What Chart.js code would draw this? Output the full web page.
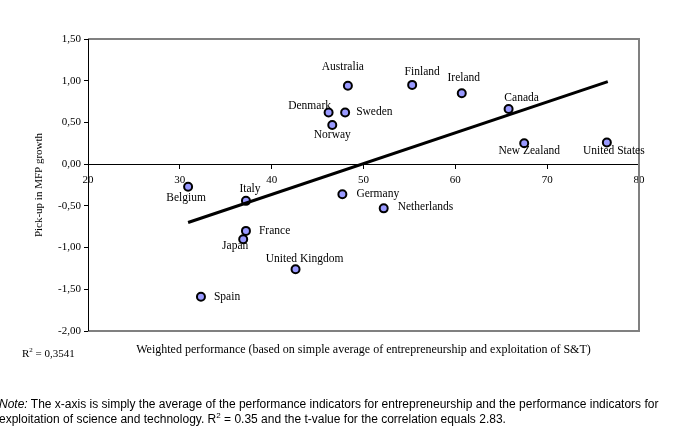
<!DOCTYPE html>
<html>
<head>
<meta charset="utf-8">
<script src="https://cdn.jsdelivr.net/npm/chart.js@4/dist/chart.umd.min.js"></script>
<style>
  body { margin: 0; background: #fff; }
  #wrap { position: relative; width: 684px; height: 431px; overflow: hidden; }
  #r2 { position: absolute; left: 22px; top: 346px; font: 11px "Liberation Serif", serif; color: #000; }
  #r2 sup { font-size: 7px; }
  #note { position: absolute; left: -1px; top: 397px; width: 720px; font: 12px "Liberation Sans", Arial, sans-serif; line-height: 15px; color: #000; }
  #note sup { font-size: 8px; line-height: 0; }
</style>
</head>
<body>
<div id="wrap">
  <canvas id="chart" width="684" height="431"></canvas>
  <div id="r2">R<sup>2</sup> = 0,3541</div>
  <div id="note"><i>Note:</i> The x-axis is simply the average of the performance indicators for entrepreneurship and the performance indicators for<br>exploitation of science and technology. R<sup>2</sup> = 0.35 and the t-value for the correlation equals 2.83.</div>
</div>
<script>
const countries = ["Australia", "Finland", "Ireland", "Canada", "Denmark", "Sweden", "Norway", "New Zealand", "United States",
                   "Belgium", "Italy", "France", "Japan", "United Kingdom", "Spain", "Germany", "Netherlands"];
const performance = [48.3, 55.3, 60.7, 65.8, 46.2, 48.0, 46.6, 67.5, 76.5, 30.9, 37.2, 37.2, 36.9, 42.6, 32.3, 47.7, 52.2];
const mfpPickup = [0.94, 0.95, 0.85, 0.66, 0.62, 0.62, 0.47, 0.25, 0.26, -0.27, -0.44, -0.80, -0.90, -1.26, -1.59, -0.36, -0.53];
const trendX = [30.9, 76.6];
const trendY = [-0.70, 0.99];
const xTicks = [20, 30, 40, 50, 60, 70, 80];
const yTicks = [1.5, 1.0, 0.5, 0, -0.5, -1.0, -1.5, -2.0];

// where each country name sits relative to its point
const labelPos = {
    "Australia": [-5, -19, "center"], "Finland": [10, -13, "center"], "Ireland": [2, -15, "center"],
    "Canada": [13, -11, "center"], "Denmark": [-19, -6, "center"], "Sweden": [11, 0, "left"],
    "Norway": [0, 10, "center"], "New Zealand": [5, 8, "center"], "United States": [7, 9, "center"],
    "Belgium": [-2, 11, "center"], "Italy": [4, -12, "center"], "France": [13, 0, "left"],
    "Japan": [-8, 7, "center"], "United Kingdom": [9, -10, "center"], "Spain": [13, 0, "left"],
    "Germany": [14, 0, "left"], "Netherlands": [14, -1, "left"]
};

const serif = "'Liberation Serif', 'Times New Roman', serif";

const frame = {
    id: 'frame',
    beforeDatasetsDraw(chart) {
        const {ctx, chartArea: a} = chart;
        ctx.save();
        ctx.strokeStyle = '#808080';
        ctx.lineWidth = 2;
        ctx.beginPath();
        ctx.moveTo(a.left, a.top);
        ctx.lineTo(a.right, a.top);
        ctx.lineTo(a.right, a.bottom);
        ctx.lineTo(a.left, a.bottom);
        ctx.stroke();
        ctx.strokeStyle = '#000';
        ctx.lineWidth = 1;
        ctx.beginPath();
        ctx.moveTo(a.left + 0.5, a.top);
        ctx.lineTo(a.left + 0.5, a.bottom);
        ctx.stroke();
        ctx.restore();
    }
};

const names = {
    id: 'names',
    afterDatasetsDraw(chart) {
        const ctx = chart.ctx;
        const meta = chart.getDatasetMeta(1);
        ctx.save();
        ctx.font = "11.5px " + serif;
        ctx.fillStyle = '#000';
        ctx.textBaseline = 'middle';
        meta.data.forEach((pt, i) => {
            const p = labelPos[countries[i]];
            ctx.textAlign = p[2];
            ctx.fillText(countries[i], pt.x + p[0], pt.y + p[1]);
        });
        ctx.restore();
    }
};

// x-axis title sits below the plot frame, not at the zero line
const xTitle = {
    id: 'xTitle',
    afterDraw(chart) {
        const {ctx, chartArea: a} = chart;
        ctx.save();
        ctx.font = "12px " + serif;
        ctx.fillStyle = '#000';
        ctx.textAlign = 'center';
        ctx.textBaseline = 'middle';
        ctx.fillText('Weighted performance (based on simple average of entrepreneurship and exploitation of S&T)',
            (a.left + a.right) / 2, a.bottom + 19);
        ctx.restore();
    }
};

new Chart(document.getElementById('chart'), {
    type: 'scatter',
    data: {
        datasets: [{
            type: 'line',
            data: trendX.map((x, i) => ({x: x, y: trendY[i]})),
            borderColor: '#000',
            borderWidth: 3,
            pointRadius: 0,
            fill: false
        }, {
            data: performance.map((x, i) => ({x: x, y: mfpPickup[i]})),
            backgroundColor: '#9999FF',
            borderColor: '#000',
            borderWidth: 2,
            pointRadius: 4
        }]
    },
    options: {
        responsive: false,
        animation: false,
        layout: { padding: { left: 0, top: 39, right: 45, bottom: 100 } },
        plugins: { legend: { display: false }, tooltip: { enabled: false } },
        scales: {
            x: {
                type: 'linear',
                position: { y: 0 },
                min: 20, max: 80,
                afterBuildTicks: s => { s.ticks = xTicks.map(v => ({value: v})); },
                grid: { drawOnChartArea: false, tickLength: 4, color: '#000' },
                border: { color: '#000', width: 1 },
                ticks: { color: '#000', padding: 5, font: { family: serif, size: 11 } }
            },
            y: {
                min: -2, max: 1.5,
                afterBuildTicks: s => { s.ticks = yTicks.map(v => ({value: v})); },
                afterFit: s => { s.width = 88; },
                grid: { drawOnChartArea: false, tickLength: 4, color: '#000' },
                border: { color: '#000', width: 1 },
                ticks: {
                    color: '#000', padding: 3, font: { family: serif, size: 11 },
                    callback: v => v.toFixed(2).replace('.', ',')
                },
                title: {
                    display: true, text: 'Pick-up in MFP growth', color: '#000',
                    font: { family: serif, size: 11 }, padding: { top: 33, bottom: 0 }
                }
            }
        }
    },
    plugins: [frame, names, xTitle]
});
</script>
</body>
</html>
